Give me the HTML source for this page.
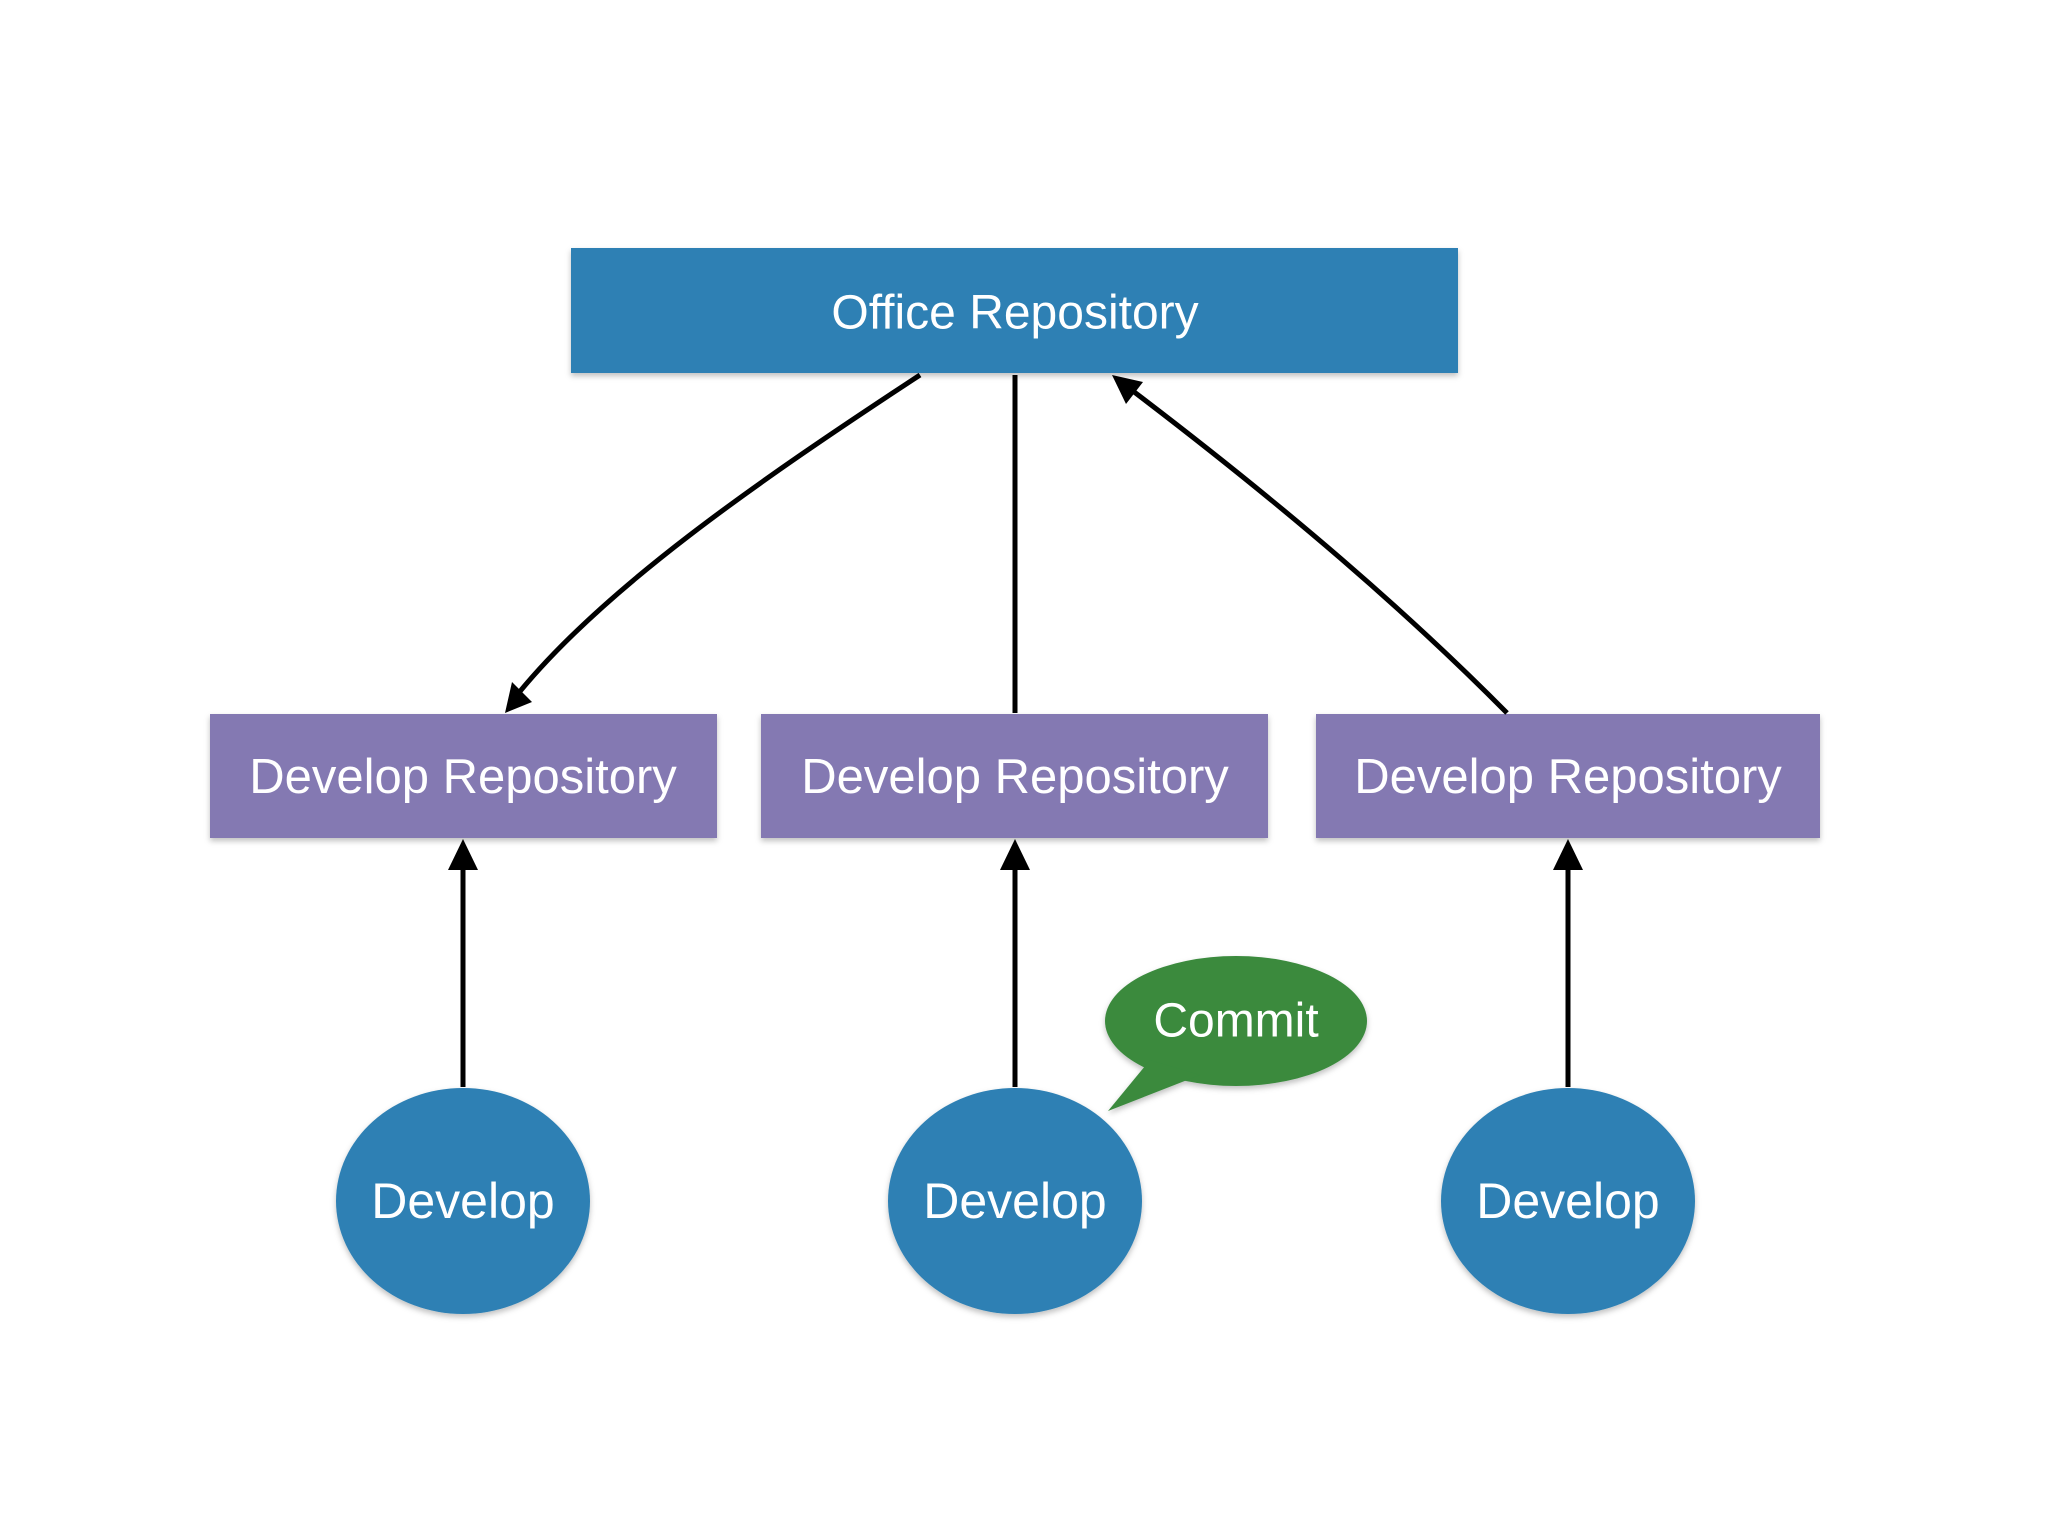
<!DOCTYPE html>
<html><head><meta charset="utf-8"><style>
html,body{margin:0;padding:0;background:#fff;}
svg{display:block}
text{font-family:"Liberation Sans",sans-serif;fill:#fff;text-anchor:middle;dominant-baseline:central;}
</style></head><body>
<svg width="2048" height="1536" viewBox="0 0 2048 1536" xmlns="http://www.w3.org/2000/svg">
<defs>
<marker id="ah" viewBox="0 0 10 10" refX="9" refY="5" markerWidth="6" markerHeight="6" orient="auto-start-reverse" markerUnits="userSpaceOnUse" style="overflow:visible">
</marker>
<filter id="sh" x="-10%" y="-10%" width="130%" height="140%"><feDropShadow dx="0" dy="3" stdDeviation="3" flood-color="#000" flood-opacity="0.25"/></filter>
</defs>
<rect x="571" y="248" width="887" height="125" fill="#2e80b4" filter="url(#sh)"/>
<text x="1015" y="313" font-size="48">Office Repository</text>
<rect x="210" y="714" width="507" height="124" fill="#8479b2" filter="url(#sh)"/>
<rect x="761" y="714" width="507" height="124" fill="#8479b2" filter="url(#sh)"/>
<rect x="1316" y="714" width="504" height="124" fill="#8479b2" filter="url(#sh)"/>
<text x="463" y="777" font-size="49">Develop Repository</text>
<text x="1015" y="777" font-size="49">Develop Repository</text>
<text x="1568" y="777" font-size="49">Develop Repository</text>
<g stroke="#000" stroke-width="5" fill="none">
<path d="M920 375 C 760 480 600 590 513 700"/>
<line x1="1015" y1="375" x2="1015" y2="713"/>
<path d="M1507 713 C 1410 615 1290 510 1125 385"/>
<line x1="463" y1="1087" x2="463" y2="862"/>
<line x1="1015" y1="1087" x2="1015" y2="862"/>
<line x1="1568" y1="1087" x2="1568" y2="862"/>
</g>
<g fill="#000">
<polygon points="463,839 448,870 478,870"/>
<polygon points="1015,839 1000,870 1030,870"/>
<polygon points="1568,839 1553,870 1583,870"/>
<polygon points="505,713 512,682 532,702"/>
<polygon points="1112,375 1143,382 1126,404"/>
</g>
<ellipse cx="463" cy="1201" rx="127" ry="113" fill="#2e80b4" filter="url(#sh)"/>
<ellipse cx="1015" cy="1201" rx="127" ry="113" fill="#2e80b4" filter="url(#sh)"/>
<ellipse cx="1568" cy="1201" rx="127" ry="113" fill="#2e80b4" filter="url(#sh)"/>
<text x="463" y="1201" font-size="50">Develop</text>
<text x="1015" y="1201" font-size="50">Develop</text>
<text x="1568" y="1201" font-size="50">Develop</text>
<g filter="url(#sh)" fill="#3a8a3e">
<ellipse cx="1236" cy="1021" rx="131" ry="65"/>
<polygon points="1108,1111 1150,1060 1200,1075"/>
</g>
<text x="1236" y="1021" font-size="48">Commit</text>
</svg>
</body></html>
